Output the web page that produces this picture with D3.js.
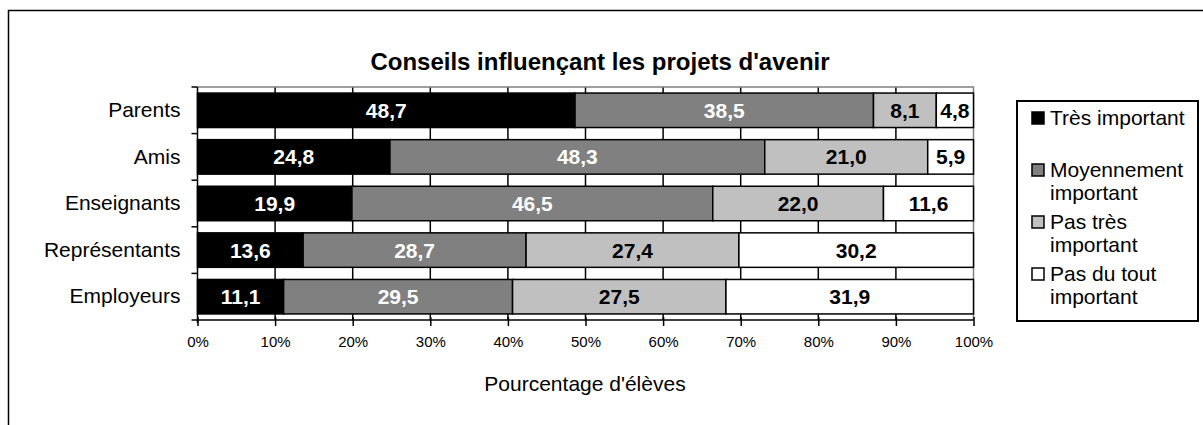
<!DOCTYPE html>
<html><head><meta charset="utf-8">
<script src="https://cdn.jsdelivr.net/npm/d3@7"></script>
<style>html,body{margin:0;padding:0;background:#fff;}svg{display:block;font-family:"Liberation Sans",Arial,sans-serif;}</style>
</head><body>
<svg id="c" width="1203" height="425"></svg>
<script>
const title = "Conseils influençant les projets d'avenir";
const axisTitle = "Pourcentage d'élèves";
const categories = ["Parents","Amis","Enseignants","Représentants","Employeurs"];
const seriesNames = ["Très important","Moyennement important","Pas très important","Pas du tout important"];
const legendLines = [["Très important"],["Moyennement","important"],["Pas très","important"],["Pas du tout","important"]];
const tresImportant = [48.7,24.8,19.9,13.6,11.1];
const moyennement = [38.5,48.3,46.5,28.7,29.5];
const pasTres = [8.1,21.0,22.0,27.4,27.5];
const pasDuTout = [4.8,5.9,11.6,30.2,31.9];
const tickValues = [0,10,20,30,40,50,60,70,80,90,100];
const colors = ["#000000","#808080","#c0c0c0","#ffffff"];
const labelColors = ["#ffffff","#ffffff","#000000","#000000"];

const svg = d3.select("#c");
const W=1203,H=425;
svg.append("rect").attr("x",0).attr("y",0).attr("width",W).attr("height",H).attr("fill","#fff");
// outer chart frame
svg.append("rect").attr("x",8.5).attr("y",10.5).attr("width",1300).attr("height",600)
  .attr("fill","none").attr("stroke","#000").attr("stroke-width",1.5);

const L=197.5,R=973.5,T=87,B=320;
const x=d3.scaleLinear().domain([0,100]).range([L,R]);
const y=d3.scaleBand().domain(categories).range([T,B]).paddingInner(0.26).paddingOuter(0.13);
const yb=d3.scaleBand().domain(categories).range([T,B]);

const series=[tresImportant,moyennement,pasTres,pasDuTout];
const rows=categories.map((c,i)=>{const vals=series.map(s=>s[i]);const tot=d3.sum(vals);let acc=0;
  return vals.map((v,j)=>{const s0=acc/tot*100;acc+=v;return {cat:c,j,v,x0:s0,x1:acc/tot*100};});});

// grid lines
svg.append("g").selectAll("line").data(tickValues.slice(1,-1)).join("line")
  .attr("x1",d=>x(d)).attr("x2",d=>x(d)).attr("y1",T).attr("y2",B)
  .attr("stroke","#000").attr("stroke-width",1.5);
// plot border top & right grey
svg.append("path").attr("d",`M${L},${T}H${R}V${B}`).attr("fill","none").attr("stroke","#808080").attr("stroke-width",1.5);

// bars
const g=svg.append("g");
rows.flat().forEach(d=>{
  g.append("rect").attr("x",x(d.x0)).attr("y",y(d.cat)).attr("width",x(d.x1)-x(d.x0)).attr("height",y.bandwidth())
   .attr("fill",colors[d.j]).attr("stroke","#000").attr("stroke-width",1.5);
});
rows.flat().forEach(d=>{
  g.append("text").attr("x",(x(d.x0)+x(d.x1))/2).attr("y",y(d.cat)+y.bandwidth()/2).attr("dy","0.36em")
   .attr("text-anchor","middle").attr("font-size",21).attr("font-weight","bold").attr("fill",labelColors[d.j])
   .text(d.v.toFixed(1).replace(".",","));
});

// axes
const xAxis=d3.axisBottom(x).tickValues(tickValues).tickFormat(d=>d+"%").tickSize(6).tickPadding(10);
const ax=svg.append("g").attr("transform",`translate(0,${B})`).call(xAxis);
ax.select(".domain").attr("stroke","#000").attr("stroke-width",1.5).attr("d",`M${L},0H${R}`);
ax.selectAll(".tick line").attr("stroke","#000").attr("stroke-width",1.5).attr("y1",-3);
ax.selectAll(".tick text").attr("font-size",15).attr("fill","#000").attr("font-family","Liberation Sans, Arial, sans-serif");

const yAxis=d3.axisLeft(y).tickSize(0).tickPadding(17);
const ay=svg.append("g").attr("transform",`translate(${L},0)`).call(yAxis);
ay.select(".domain").remove();
ay.selectAll(".tick text").attr("font-size",21).attr("fill","#000").attr("font-family","Liberation Sans, Arial, sans-serif");
svg.append("line").attr("x1",L).attr("x2",L).attr("y1",T).attr("y2",B+3).attr("stroke","#000").attr("stroke-width",1.5);
const bounds=categories.map(c=>yb(c)).concat([B]);
svg.append("g").selectAll("line").data(bounds).join("line")
  .attr("x1",L-6).attr("x2",L).attr("y1",d=>d).attr("y2",d=>d).attr("stroke","#000").attr("stroke-width",1.5);

// title
svg.append("text").attr("x",600).attr("y",70).attr("text-anchor","middle").attr("font-size",24).attr("font-weight","bold").text(title);
svg.append("text").attr("x",585).attr("y",391).attr("text-anchor","middle").attr("font-size",21).text(axisTitle);

// legend
const lg=svg.append("g");
lg.append("rect").attr("x",1017).attr("y",101).attr("width",181).attr("height",220).attr("fill","#fff").attr("stroke","#000").attr("stroke-width",2);
const entryY=[118,170,222,274];
legendLines.forEach((lines,i)=>{
  lg.append("rect").attr("x",1032).attr("y",entryY[i]-6).attr("width",12).attr("height",12)
    .attr("fill",colors[i]).attr("stroke","#000").attr("stroke-width",1.5);
  lines.forEach((t,k)=>{
    lg.append("text").attr("x",1050).attr("y",entryY[i]+k*23).attr("dy","0.35em").attr("font-size",21).text(t);
  });
});
</script>
</body></html>
